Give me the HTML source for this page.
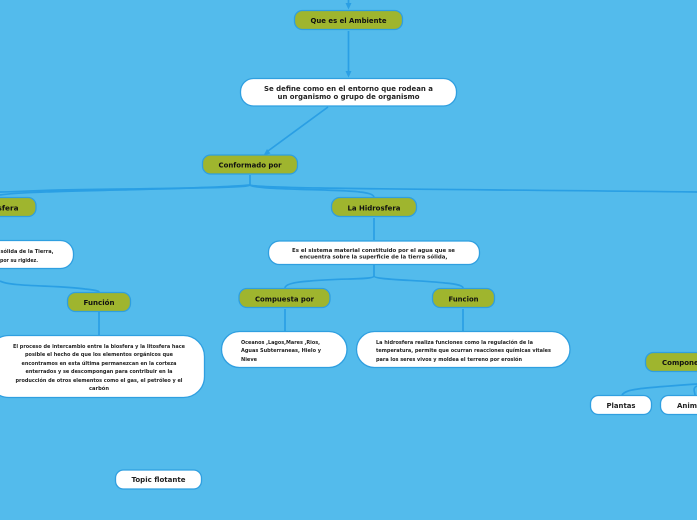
<!DOCTYPE html>
<html><head><meta charset="utf-8"><style>
html,body{margin:0;padding:0;background:#53bbec;width:697px;height:520px;overflow:hidden}
svg{display:block}
text{font-family:"DejaVu Sans",sans-serif;font-weight:bold;text-anchor:middle}
.g{fill:#9fb52e;stroke:#2f9fe0;stroke-width:1.3}
.w{fill:#fff;stroke:#2f9fe0;stroke-width:1.3}
.l{fill:none;stroke:#2a9fe4;stroke-width:1.7}
.a{fill:#2a9fe4}
.t{font-size:7px;fill:#111}
.m{font-size:7px;fill:#222}
.s{font-size:5px;fill:#222}
.p{font-size:4.9px;fill:#222;text-anchor:start}
</style></head><body>
<svg width="697" height="520" viewBox="0 0 697 520" xmlns="http://www.w3.org/2000/svg">
<rect width="697" height="520" fill="#53bbec"/>
<!-- connectors -->
<path class="l" d="M348.500 0V6M348.500 31V74M328 107L268 151"/>
<path class="a" d="M345.500 3h6l-3 6.500zM345.500 71h6l-3 6.500zM263.500 155.500l7-2-3.500-4.500z"/>
<path class="l" d="M250 175V185C250 188 180 188 60 190C25 191 8 192 0 192"/>
<path class="l" d="M0 195C30 190 200 190 250 185"/>
<path class="l" d="M250 185C252 190 340 189 360 192C368 193 373 194 374 197"/>
<path class="l" d="M250 185C260 189 450 189 697 192"/>
<path class="l" d="M374 218V240M374 265V276C374 280 340 278 310 281C295 282 285 284 285 288"/>
<path class="l" d="M374 276C374 280 420 280 445 283C458 284 463 286 463 288"/>
<path class="l" d="M285 309V331M463 309V331M99 312V335"/>
<path class="l" d="M0 281C10 287 60 285 85 289C95 290 99 291 99 292"/>
<path class="l" d="M622 395C626 389 640 388 697 384M697 386C692 388 695 392 695 395"/>
<!-- green nodes -->
<rect class="g" x="294.500" y="10.500" width="108" height="19" rx="8"/>
<rect class="g" x="202.500" y="155" width="95" height="19" rx="8"/>
<rect class="g" x="-30" y="197.500" width="66" height="19" rx="8"/>
<rect class="g" x="331.500" y="197.500" width="85" height="19" rx="8.500"/>
<rect class="g" x="239" y="288.500" width="91" height="19" rx="8"/>
<rect class="g" x="432.500" y="288.500" width="62" height="19" rx="8"/>
<rect class="g" x="67.500" y="292.500" width="63" height="19" rx="8"/>
<rect class="g" x="645.500" y="352.500" width="90" height="19" rx="8"/>
<!-- white nodes -->
<rect class="w" x="240.500" y="78.500" width="216" height="27.500" rx="13"/>
<rect class="w" x="268.500" y="241" width="211" height="23.500" rx="11"/>
<rect class="w" x="-40" y="240.500" width="113.500" height="28" rx="13"/>
<rect class="w" x="-12" y="335.500" width="216.500" height="62" rx="21"/>
<rect class="w" x="221.500" y="331.500" width="125.500" height="36" rx="18"/>
<rect class="w" x="356.500" y="331.500" width="213.500" height="36" rx="18"/>
<rect class="w" x="590.500" y="395.500" width="61" height="19" rx="8"/>
<rect class="w" x="660.500" y="395.500" width="70" height="19" rx="8"/>
<rect class="w" x="115.500" y="470" width="86" height="19" rx="8"/>
<!-- green labels -->
<text class="t" x="348.500" y="23" textLength="76" lengthAdjust="spacingAndGlyphs">Que es el Ambiente</text>
<text class="t" x="250" y="167.500" textLength="63" lengthAdjust="spacingAndGlyphs">Conformado por</text>
<text class="t" x="8" y="210.500" textLength="21" lengthAdjust="spacingAndGlyphs">sfera</text>
<text class="t" x="374" y="210.500" textLength="53" lengthAdjust="spacingAndGlyphs">La Hidrosfera</text>
<text class="t" x="284.500" y="301.500" textLength="59" lengthAdjust="spacingAndGlyphs">Compuesta por</text>
<text class="t" x="463.500" y="301.500" textLength="30" lengthAdjust="spacingAndGlyphs">Funcion</text>
<text class="t" x="99" y="305" textLength="31" lengthAdjust="spacingAndGlyphs">Función</text>
<text class="t" x="662" y="365" style="text-anchor:start">Componentes</text>
<!-- white labels -->
<text class="m" x="348.500" y="91" textLength="169" lengthAdjust="spacingAndGlyphs">Se define como en el entorno que rodean a</text>
<text class="m" x="348.500" y="99" textLength="142" lengthAdjust="spacingAndGlyphs">un organismo o grupo de organismo</text>
<text class="s" x="373.500" y="252" textLength="163" lengthAdjust="spacingAndGlyphs">Es el sistema material constituido por el agua que se</text>
<text class="s" x="373.500" y="258.500" textLength="148" lengthAdjust="spacingAndGlyphs">encuentra sobre la superficie de la tierra sólida,</text>
<text class="s" x="27" y="253" textLength="53" lengthAdjust="spacingAndGlyphs">sólida de la Tierra,</text>
<text class="s" x="19" y="262" textLength="38" lengthAdjust="spacingAndGlyphs">por su rigidez.</text>
<text class="s" x="99" y="348" textLength="172" lengthAdjust="spacingAndGlyphs">El proceso de intercambio entre la biosfera y la litosfera hace</text>
<text class="s" x="99" y="356" textLength="148" lengthAdjust="spacingAndGlyphs">posible el hecho de que los elementos orgánicos que</text>
<text class="s" x="99" y="365" textLength="155" lengthAdjust="spacingAndGlyphs">encontramos en esta última permanezcan en la corteza</text>
<text class="s" x="99" y="373" textLength="147" lengthAdjust="spacingAndGlyphs">enterrados y se descompongan para contribuir en la</text>
<text class="s" x="99" y="382" textLength="167" lengthAdjust="spacingAndGlyphs">producción de otros elementos como el gas, el petróleo y el</text>
<text class="s" x="99" y="390" textLength="20" lengthAdjust="spacingAndGlyphs">carbón</text>
<text class="p" x="241" y="344" textLength="79" lengthAdjust="spacingAndGlyphs">Oceanos ,Lagos,Mares ,Rios,</text>
<text class="p" x="241" y="352" textLength="80" lengthAdjust="spacingAndGlyphs">Aguas Subterraneas, Hielo y</text>
<text class="p" x="241" y="361" textLength="16" lengthAdjust="spacingAndGlyphs">Nieve</text>
<text class="p" x="376" y="344" textLength="157" lengthAdjust="spacingAndGlyphs">La hidrosfera realiza funciones como la regulación de la</text>
<text class="p" x="376" y="352" textLength="175" lengthAdjust="spacingAndGlyphs">temperatura, permite que ocurran reacciones químicas vitales</text>
<text class="p" x="376" y="361" textLength="146" lengthAdjust="spacingAndGlyphs">para los seres vivos y moldea el terreno por erosión</text>
<text class="m" x="621" y="408" textLength="29" lengthAdjust="spacingAndGlyphs">Plantas</text>
<text class="m" x="677" y="408" style="text-anchor:start">Animales</text>
<text class="m" x="158.500" y="482" textLength="54" lengthAdjust="spacingAndGlyphs">Topic flotante</text>
</svg>
</body></html>
